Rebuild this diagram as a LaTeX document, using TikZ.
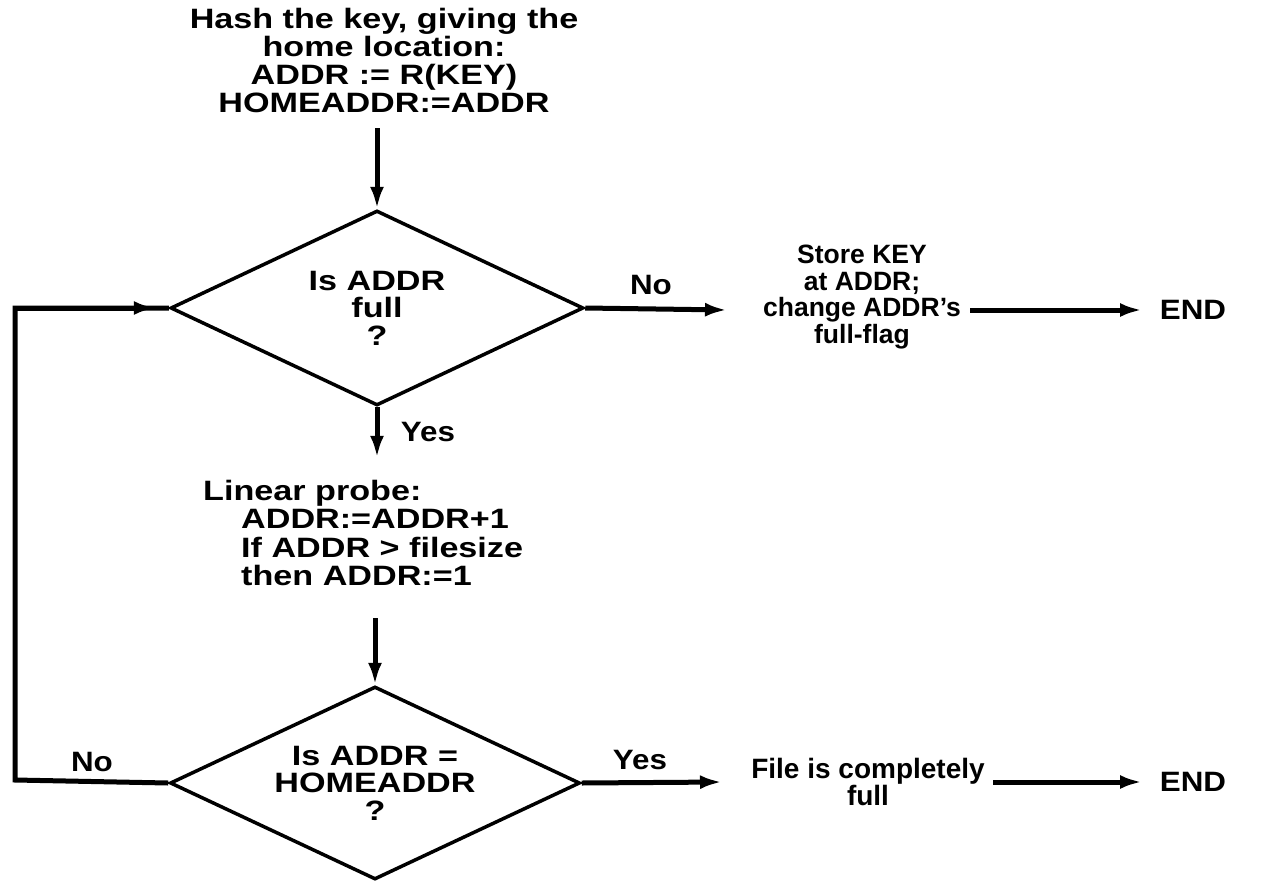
\documentclass[tikz,border=0pt]{standalone}
\usepackage{fontspec}
\setmainfont{Liberation Sans}[FakeStretch=1.12]
\newfontfamily\widefam{Liberation Sans}[FakeStretch=1.22]
\newfontfamily\plainfam{Liberation Sans}
\usetikzlibrary{arrows.meta,shapes.geometric}
\begin{document}
\begin{tikzpicture}[x=1pt,y=-1pt,
  txt/.style={font=\fontsize{28}{27.5}\selectfont\bfseries, align=center, inner sep=0pt},
  big/.style={txt, font=\widefam\fontsize{28}{28}\selectfont\bfseries},
  small/.style={txt, font=\plainfam\fontsize{26.5}{26.5}\selectfont\bfseries},
  conn/.style={line width=5pt},
  arr/.style={conn, -{Latex[length=22pt,width=14pt]}},
  dia/.style={diamond, draw, line width=3.5pt, inner sep=0pt, aspect=2.1, txt,
              font=\widefam\fontsize{28}{27.5}\selectfont\bfseries}
]
\useasboundingbox (0,0) rectangle (1282,886);
% nodes
\node[big] (hash) at (384,60) {Hash the key, giving the\\home location:\\ADDR := R(KEY)\\HOMEADDR:=ADDR};
\node[dia, minimum width=413pt, minimum height=195pt] (d1) at (377,308) {Is ADDR\\full\\?};
\node[small] (store) at (862,297) {Store KEY\\at ADDR;\\change ADDR’s\\full-flag};
\node[txt] (end1) at (1193,310) {END};
\node[big, align=left, anchor=west, font=\widefam\fontsize{28}{28.5}\selectfont\bfseries] (probe) at (203,533) {Linear probe:\\\hspace*{38pt}ADDR:=ADDR+1\\\hspace*{38pt}If ADDR > filesize\\\hspace*{38pt}then ADDR:=1};
\node[dia, minimum width=410pt, minimum height=193pt] (d2) at (375,783) {Is ADDR =\\HOMEADDR\\?};
\node[txt, font=\plainfam\fontsize{28}{26}\selectfont\bfseries] (full) at (868,782) {File is completely\\full};
\node[txt] (end2) at (1193,782) {END};
% labels
\node[txt] (no1) at (651,285) {No};
\node[txt] (yes1) at (428,432) {Yes};
\node[txt] (no2) at (92,762) {No};
\node[txt] (yes2) at (640,760) {Yes};
% free ends
\coordinate (t1) at (727,310);
\coordinate (s1) at (970,310);
\coordinate (e1) at (1142,310);
\coordinate (t2) at (722,782);
\coordinate (s2) at (993,782);
\coordinate (e2) at (1142,782);
\coordinate (lt) at (15,308);
\coordinate (lb) at (15,780);
% connectors
\draw[arr, shorten <=16pt] (d1.north |- hash.south) -- (d1.north);
\draw[arr] (d1.east) -- (t1);
\draw[arr] (s1) -- (e1);
\draw[arr, shorten >=22pt] (d1.south) -- (d1.south |- probe.north);
\draw[arr, shorten <=32pt] (d2.north |- probe.south) -- (d2.north);
\draw[arr] (d2.east) -- (t2);
\draw[arr] (s2) -- (e2);
\draw[conn] (d2.west) -- (lb) -- (lt) -- (d1.west);
\draw[arr] (lt) -- ([xshift=-13pt]d1.west);
\end{tikzpicture}
\end{document}
